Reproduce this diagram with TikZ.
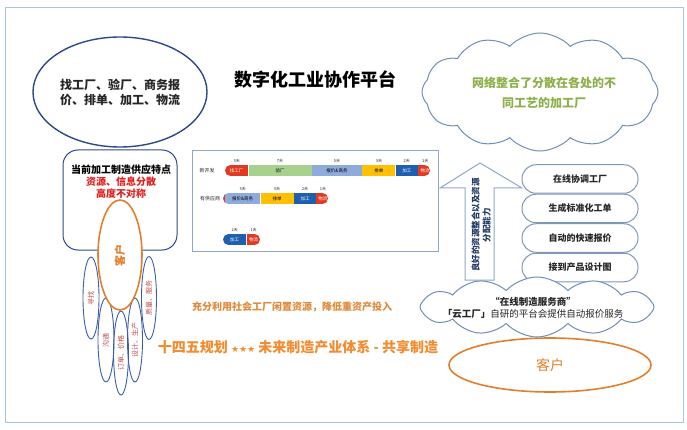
\documentclass[tikz,border=0pt]{standalone}
\usepackage{fontspec}
\setmainfont{Noto Sans CJK SC}
\newfontfamily\symfont{DejaVu Sans}
\usetikzlibrary{positioning, shapes.geometric, shapes.symbols, shapes.misc}

\definecolor{frameblue}{HTML}{A9C4E4}
\definecolor{navyblue}{HTML}{2C4A8A}
\definecolor{ovalblue}{HTML}{3A5FA8}
\definecolor{brickred}{HTML}{C0504D}
\definecolor{custorange}{HTML}{E27F2C}
\definecolor{warmorange}{HTML}{F28C30}
\definecolor{mutedorange}{HTML}{E0893A}
\definecolor{leafgreen}{HTML}{8DB04B}
\definecolor{alertred}{HTML}{E02020}
\definecolor{cloudblue}{HTML}{6F8FB8}
\definecolor{pillblue}{HTML}{7F97BA}
\definecolor{chartblue}{HTML}{8FA8C8}
\definecolor{darktext}{HTML}{262626}
\definecolor{arrowtext}{HTML}{203864}
\definecolor{segred}{HTML}{E03A22}
\definecolor{seggreen}{HTML}{A9D18E}
\definecolor{seglblue}{HTML}{8FAADC}
\definecolor{segyellow}{HTML}{FFC000}
\definecolor{segblue}{HTML}{1F5FB0}

\tikzset{
  every node/.append style={inner sep=0pt}, % keep text boxes tight
  oval/.style={ellipse, draw=navyblue, line width=1.4pt}, % the big blue ellipse
  thinoval/.style={ellipse, draw=ovalblue, line width=0.9pt, rotate=90,
    font=\fontsize{7}{8}\selectfont, text=brickred}, % the small finger ellipses
  custoval/.style={ellipse, draw=custorange, line width=1.6pt, fill=white},
  puff/.style={cloud, draw=cloudblue, line width=1pt, fill=white,
    cloud ignores aspect, cloud puff arc=95}, % both clouds
  pill/.style={rectangle, rounded corners=14pt, draw=pillblue, line width=1pt,
    minimum width=116pt, minimum height=28.5pt,
    font=\fontsize{9}{10}\selectfont\bfseries, text=darktext},
  seg/.style={minimum height=11pt, font=\fontsize{4.5}{5}\selectfont},
  dayl/.style={font=\fontsize{4}{4}\selectfont, text=darktext},
}

\begin{document}
\begin{tikzpicture}[x=1pt, y=-1pt,
    rowlabel/.style={font=\fontsize{5}{5}\selectfont, text=darktext},
    arrowline/.style={draw=chartblue, line width=1pt, fill=white}]

  \useasboundingbox (0,0) rectangle (687,430);
  \draw[frameblue, line width=0.8pt] (5,7) rectangle (683,422);

  % left side
  \node[oval, minimum width=174pt, minimum height=110pt, align=center,
    font=\fontsize{12}{15}\selectfont\bfseries, text=darktext] (tasks) at (120,92)
    {找工厂、验厂、商务报\\价、排单、加工、物流};

  \draw[navyblue, line width=1pt, rounded corners=15pt] (63,150) rectangle (177,250);
  \node[align=center, font=\fontsize{10}{12}\selectfont\bfseries] (feature) at (121,182)
    {当前加工制造供应特点\\\textcolor{alertred}{资源、信息分散}\\\textcolor{alertred}{高度不对称}};

  \node[thinoval, minimum width=82pt, minimum height=16pt] (seek) at (91,298) {寻找};
  \node[thinoval, minimum width=84pt, minimum height=16pt] (talk) at (106,340) {沟通};
  \node[thinoval, minimum width=84pt, minimum height=15pt] (order) at (121,353) {订单、价格};
  \node[thinoval, minimum width=84pt, minimum height=15pt] (make) at (135,340) {设计、生产};
  \node[thinoval, minimum width=83pt, minimum height=15pt] (serve) at (149,298) {质量、服务};

  \node[custoval, rotate=90, minimum width=110pt, minimum height=44pt,
    font=\fontsize{11}{11}\selectfont\bfseries, text=custorange] (client) at (120,255) {客户};

  \node[font=\fontsize{18}{18}\selectfont\bfseries] (title) at (315,80) {数字化工业协作平台};

  % timeline chart
  \draw[chartblue, line width=1pt] (192,151) rectangle (438,251);
  \node[rowlabel] (newrow) at (207,171) {新开发};
  \node[rowlabel] (oldrow) at (210,199) {有供应商};

  \begin{scope}
    \clip[rounded corners=5.5pt] (225,165) rectangle (430,176);
    \node[seg, fill=segred, text=white, minimum width=23pt, anchor=west] (a1) at (225,170.5) {找工厂};
    \node[seg, fill=seggreen, minimum width=63pt, right=0pt of a1] (a2) {验厂};
    \node[seg, fill=seglblue, minimum width=50pt, right=0pt of a2] (a3) {报价\&商务};
    \node[seg, fill=segyellow, minimum width=33pt, right=0pt of a3] (a4) {排单};
    \node[seg, fill=segblue, text=white, minimum width=22pt, right=0pt of a4] (a5) {加工};
    \node[seg, fill=segred, text=white, minimum width=14pt, right=0pt of a5] (a6) {物流};
  \end{scope}
  \begin{scope}
    \clip[rounded corners=5.5pt] (223,193) rectangle (328,204);
    \fill[segred] (223,193) rectangle (226,204);
    \node[seg, fill=seglblue, minimum width=35pt, anchor=west] (b1) at (225,198.5) {报价\&商务};
    \node[seg, fill=segyellow, minimum width=33pt, right=0pt of b1] (b2) {排单};
    \node[seg, fill=segblue, text=white, minimum width=22pt, right=0pt of b2] (b3) {加工};
    \node[seg, fill=segred, text=white, minimum width=13pt, right=0pt of b3] (b4) {物流};
  \end{scope}
  \begin{scope}
    \clip[rounded corners=5.5pt] (223,234) rectangle (260,245);
    \node[seg, fill=segblue, text=white, minimum width=23pt, anchor=west] (c1) at (223,239.5) {加工};
    \node[seg, fill=segred, text=white, minimum width=14pt, right=0pt of c1] (c2) {物流};
  \end{scope}

  \foreach \seg/\days in {a1/3天, a2/7天, a3/5天, a4/3天, a5/2天, a6/1天,
                          b1/3天, b2/3天, b3/2天, b4/1天, c1/2天, c2/1天}
    \node[dayl, above=2pt of \seg] {\days};

  % right side
  \node[puff, cloud puffs=12, minimum width=236pt, minimum height=118pt] (net) at (540,92) {};
  \node[align=center, font=\fontsize{12}{20}\selectfont\bfseries, text=leafgreen] (nettext) at (544,93)
    {网络整合了分散在各处的不\\同工艺的加工厂};

  \draw[arrowline] (465,280) -- (465,188) -- (440,188) -- (480,163) -- (522,188)
    -- (494,188) -- (494,280) -- cycle;
  \node[rotate=90, align=center, font=\fontsize{8.5}{11}\selectfont\bfseries, text=arrowtext]
    (ability) at (481,225) {良好的资源整合以及资源\\分配能力};

  \node[pill] (coord) at (580,179) {在线协调工厂};
  \node[pill, below=0pt of coord] (sheet) {生成标准化工单};
  \node[pill, below=0pt of sheet] (quote) {自动的快速报价};
  \node[pill, below=0pt of quote] (design) {接到产品设计图};

  \node[puff, cloud puffs=12, minimum width=234pt, minimum height=60pt] (service) at (537,307) {};
  \node[align=center, font=\fontsize{9.5}{11.6}\selectfont, text=darktext] (servicetext) at (533,308)
    {\textbf{“在线制造服务商”}\\\textbf{「云工厂」}自研的平台会提供自动报价服务};

  \node[custoval, minimum width=202pt, minimum height=54pt,
    font=\fontsize{14}{14}\selectfont, text=custorange] (buyer) at (550,365) {客户};

  % slogans
  \node[font=\fontsize{10}{10}\selectfont\bfseries, text=mutedorange] (idle) at (292,307)
    {充分利用社会工厂闲置资源，降低重资产投入};
  \node[font=\fontsize{14}{14}\selectfont\bfseries, text=warmorange] (plan) at (298,347)
    {十四五规划 {\symfont\fontsize{9}{9}\selectfont ★★★} 未来制造产业体系 - 共享制造};

\end{tikzpicture}
\end{document}
